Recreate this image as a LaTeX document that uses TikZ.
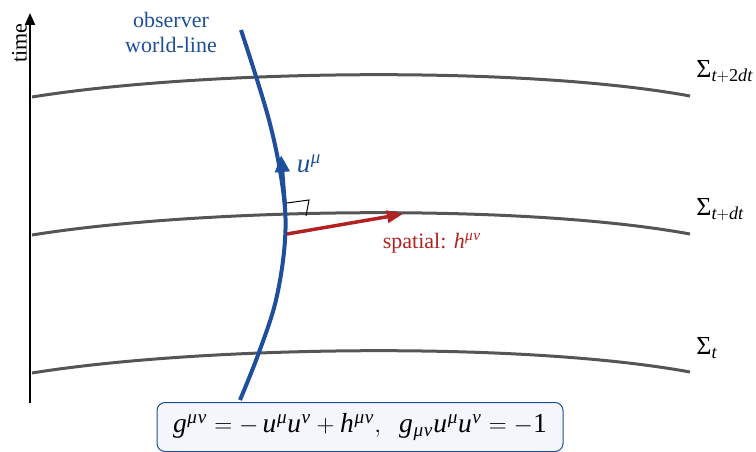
\documentclass[tikz,border=0pt]{standalone}
\usepackage{amsmath}
\usepackage{mathspec}
\setmainfont{Liberation Serif}
\setmathsfont(Digits,Latin,Greek){Liberation Serif}
\usetikzlibrary{arrows.meta, positioning}
\definecolor{obsblue}{HTML}{1F4E9C}
\definecolor{spred}{HTML}{B22222}
\definecolor{slicegray}{HTML}{555555}
\definecolor{boxfill}{HTML}{F4F6FB}
\begin{document}
\begin{tikzpicture}[x=1pt, y=-1pt, every node/.style={font=\fontsize{22}{25}\selectfont},
  slice/.style={slicegray, line width=3pt},
  obs/.style={obsblue, line width=4pt}]
\useasboundingbox (0,0) rectangle (756,452);
% time axis
\coordinate (tBot) at (30,403);
\coordinate (tTop) at (30,13);
\draw[-{Triangle[length=12pt,width=10pt]}, line width=2pt] (tBot) -- (tTop);
\node[rotate=90, anchor=south, inner sep=2pt] (timeLab) at (29,43) {time};
% slices
\foreach \dy/\lab in {0/{t+2dt},138/{t+dt},276/t} {
  \draw[slice] (32,97+\dy) .. controls (200,70+\dy) and (520,65+\dy) .. (690,96+\dy);
  \node[anchor=west, inner sep=0pt, font=\fontsize{26}{30}\selectfont] at (696,72+\dy) {$\Sigma_{\lab}$};
}
% observer
\draw[obs] plot[smooth, tension=0.6] coordinates {(241,30) (269,120) (283,190) (285,240) (276,300) (258,355) (240,400)};
\node[obsblue, align=center] (obsLab) at (171,32) {observer\\world-line};
\coordinate (uTail) at (285,205);
\coordinate (uTip) at (281,155);
\draw[obsblue, line width=4pt, -{Triangle[length=17pt,width=14pt]}] (uTail) -- (uTip);
\node[obsblue, font=\fontsize{27}{30}\selectfont] (uLab) at (309,164) {$u^\mu$};
% spatial vector
\coordinate (hTail) at (287,234);
\coordinate (hTip) at (403,214);
\draw[spred, line width=3.5pt, -{Triangle[length=16pt,width=12pt]}] (hTail) -- (hTip);
\node[spred] (hLab) at (432,243) {spatial: $h^{\mu\nu}$};
% right angle
\draw[line width=1pt] (287,203) -- (309,200) -- (306,216);
% formula
\node[draw=obsblue, line width=1pt, fill=boxfill, rounded corners=8pt, minimum width=406pt, minimum height=49pt,
  font=\fontsize{27.5}{30}\selectfont] (eqBox) at (360,427)
  {$g^{\mu\nu}=-\,u^\mu u^\nu+h^{\mu\nu},\;\; g_{\mu\nu}u^\mu u^\nu=-1$};
\end{tikzpicture}
\end{document}
